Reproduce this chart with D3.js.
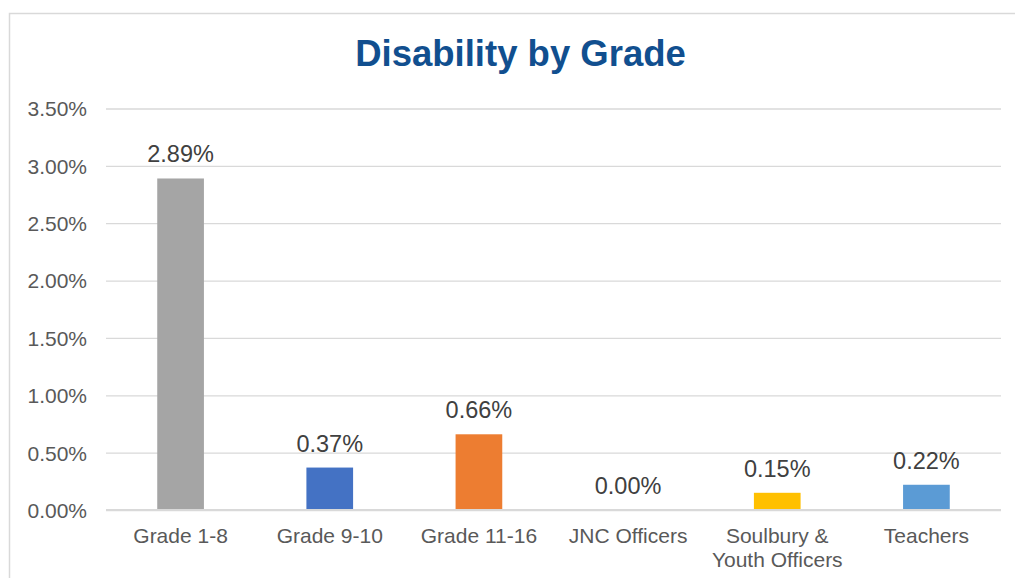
<!DOCTYPE html>
<html><head><meta charset="utf-8">
<script src="https://cdn.jsdelivr.net/npm/d3@7"></script>
<style>html,body{margin:0;padding:0;background:#fff;}svg{display:block;}</style>
</head><body>
<script>
const categories = ["Grade 1-8", "Grade 9-10", "Grade 11-16", "JNC Officers", "Soulbury & Youth Officers", "Teachers"];
const labelLines = [["Grade 1-8"], ["Grade 9-10"], ["Grade 11-16"], ["JNC Officers"], ["Soulbury &", "Youth Officers"], ["Teachers"]];
const values = [0.0289, 0.0037, 0.0066, 0.0000, 0.0015, 0.0022];
const colors = ["#A5A5A5", "#4472C4", "#ED7D31", "#A5A5A5", "#FFC000", "#5B9BD5"];
const yTicks = [0, 0.005, 0.01, 0.015, 0.02, 0.025, 0.03, 0.035];
const title = "Disability by Grade";

const W = 1015, H = 578;
const svg = d3.select("body").append("svg").attr("width", W).attr("height", H);
svg.append("rect").attr("x", 9.5).attr("y", 13.5).attr("width", W + 20).attr("height", H + 20)
  .attr("fill", "#fff").attr("stroke", "#D9D9D9").attr("stroke-width", 1.5);

const x = d3.scaleBand().domain(categories).range([106, 1001]).paddingInner(0.687).paddingOuter(0.3435);
const y = d3.scaleLinear().domain([0, 0.035]).range([510, 108.5]);
const font = "'Liberation Sans', Arial, sans-serif";

svg.append("text").attr("x", 520.5).attr("y", 65.5).attr("text-anchor", "middle")
  .attr("font-family", font).attr("font-weight", "bold").attr("font-size", 36.5)
  .attr("fill", "#114F8F").text(title);

// gridlines
const yAxis = d3.axisLeft(y).tickValues(yTicks).tickSize(-(1001 - 106)).tickFormat(d3.format(".2%")).tickPadding(19);
const gy = svg.append("g").attr("transform", "translate(106,0)").call(yAxis);
gy.select(".domain").remove();
gy.selectAll(".tick line").attr("stroke", "#D9D9D9").attr("stroke-width", 1.3);
gy.selectAll(".tick text").attr("font-family", font).attr("font-size", 21).attr("fill", "#595959").attr("dy", "0.35em");

// bars
svg.append("g").selectAll("rect").data(categories).join("rect")
  .attr("x", d => x(d)).attr("width", x.bandwidth())
  .attr("y", (d, i) => y(values[i])).attr("height", (d, i) => y(0) - y(values[i]))
  .attr("fill", (d, i) => colors[i]);

// baseline
svg.append("line").attr("x1", 106).attr("x2", 1001).attr("y1", y(0)).attr("y2", y(0))
  .attr("stroke", "#D9D9D9").attr("stroke-width", 1.8);

// data labels
svg.append("g").selectAll("text").data(categories).join("text")
  .attr("x", d => x(d) + x.bandwidth() / 2)
  .attr("y", (d, i) => y(values[i]) - 16)
  .attr("text-anchor", "middle").attr("font-family", font).attr("font-size", 23.5).attr("fill", "#404040")
  .text((d, i) => d3.format(".2%")(values[i]));

// x labels
const xl = svg.append("g").selectAll("text").data(categories).join("text")
  .attr("x", d => x(d) + x.bandwidth() / 2).attr("y", 543)
  .attr("text-anchor", "middle").attr("font-family", font).attr("font-size", 21).attr("fill", "#595959");
xl.each(function(d, i) {
  const t = d3.select(this);
  labelLines[i].forEach((ln, k) => {
    t.append("tspan").attr("x", x(d) + x.bandwidth() / 2).attr("dy", k === 0 ? 0 : 24).text(ln);
  });
});
</script>
</body></html>
